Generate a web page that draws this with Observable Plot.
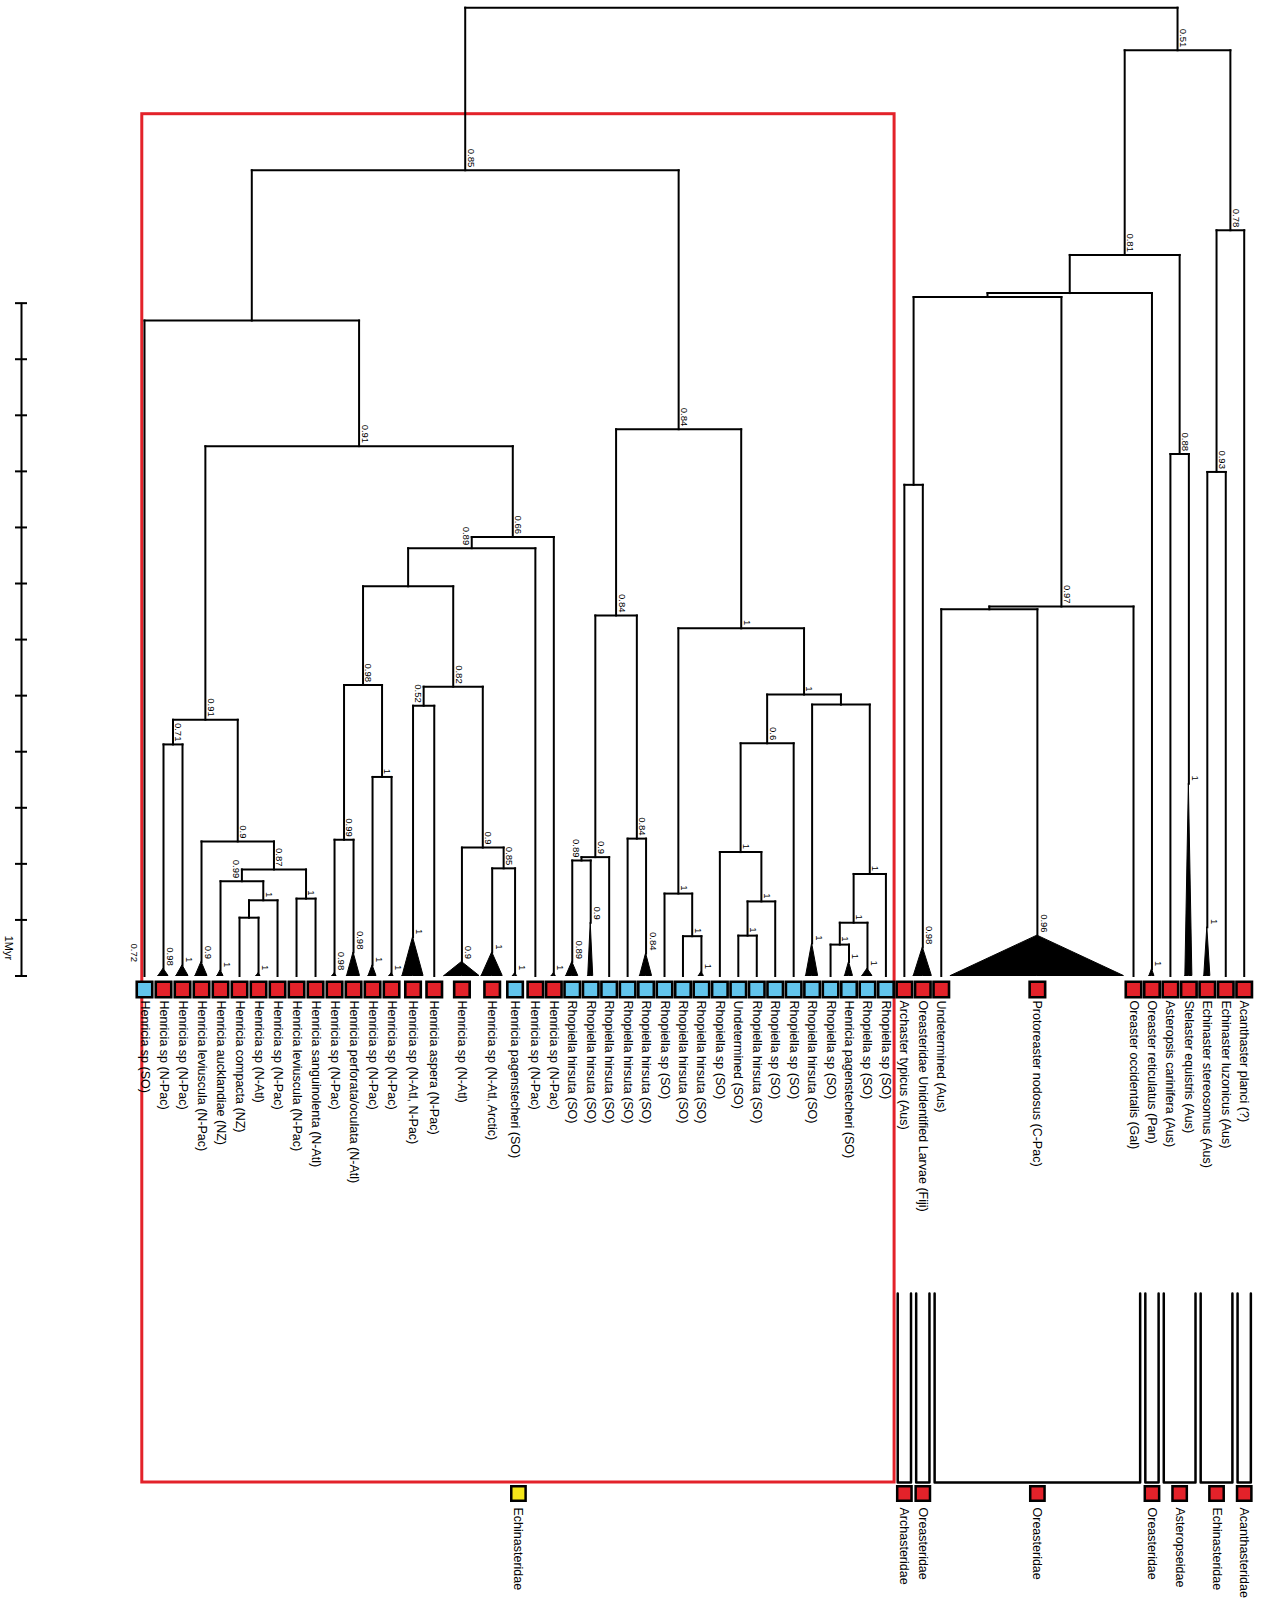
<!DOCTYPE html>
<html>
<head>
<meta charset="utf-8">
<script src="https://cdn.jsdelivr.net/npm/d3@7"></script>
<script src="https://cdn.jsdelivr.net/npm/@observablehq/plot@0.6"></script>
<style>
  html, body { margin: 0; padding: 0; background: #fff; }
  #chart svg { display: block; }
</style>
</head>
<body>
<div id="chart"></div>
<script>
// ---------------- DATA ----------------
const tipNames = [
  "Henricia sp (SO)", "Henricia sp (N-Pac)", "Henricia sp (N-Pac)", "Henricia leviuscula (N-Pac)",
  "Henricia aucklandiae (NZ)", "Henricia compacta (NZ)", "Henricia sp (N-Atl)", "Henricia sp (N-Pac)",
  "Henricia leviuscula (N-Pac)", "Henricia sanguinolenta (N-Atl)", "Henricia sp (N-Pac)",
  "Henricia perforata/oculata (N-Atl)", "Henricia sp (N-Pac)", "Henricia sp (N-Pac)",
  "Henricia sp (N-Atl, N-Pac)", "Henricia aspera (N-Pac)", "Henricia sp (N-Atl)",
  "Henricia sp (N-Atl, Arctic)", "Henricia pagenstecheri (SO)", "Henricia sp (N-Pac)", "Henricia sp (N-Pac)",
  "Rhopiella hirsuta (SO)", "Rhopiella hirsuta (SO)", "Rhopiella hirsuta (SO)", "Rhopiella hirsuta (SO)",
  "Rhopiella hirsuta (SO)", "Rhopiella sp (SO)", "Rhopiella hirsuta (SO)", "Rhopiella hirsuta (SO)",
  "Rhopiella sp (SO)", "Undetermined (SO)", "Rhopiella hirsuta (SO)", "Rhopiella sp (SO)", "Rhopiella sp (SO)",
  "Rhopiella hirsuta (SO)", "Rhopiella sp (SO)", "Henricia pagenstecheri (SO)", "Rhopiella sp (SO)",
  "Rhopiella sp (SO)", "Archaster typicus (Aus)", "Oreasteridae Unidentified Larvae (Fiji)",
  "Undetermined (Aus)", "Protoreaster nodosus (C-Pac)", "Oreaster occidentalis (Gal)",
  "Oreaster reticulatus (Pan)", "Asteropsis carinifera (Aus)", "Stelaster equistris (Aus)",
  "Echinaster stereosomus (Aus)", "Echinaster luzonicus (Aus)", "Acanthaster planci (?)"
];
// ocean of origin: SO = Southern Ocean, other = elsewhere
const tipOcean = [
  "SO","other","other","other","other","other","other","other","other","other","other","other","other","other",
  "other","other","other","other","SO","other","other",
  "SO","SO","SO","SO","SO","SO","SO","SO","SO","SO","SO","SO","SO","SO","SO","SO","SO","SO",
  "other","other","other","other","other","other","other","other","other","other","other"
];
// relative number of leaf slots each tip (or collapsed clade) occupies
const tipSlots = [
  1.03,1.03,1.03,1.03,1.03,1.03,1.03,1.03,1.03,1.03,1.03,1.03,1.03,1.03,1.3,1,2.0,1.28,1.2,1,1,
  1,1,1,1,1,1,1,1,1,1,1,1,1,1,1,1,1,1,
  1,1,1,9.42,1,1,1,1,1,1,1
];
// age (Myr) of the apex of collapsed clades (0 = single sequence)
const tipCladeAge = [
  0,0.13,0.19,0.25,0.10,0,0.05,0,0,0,0.05,0.42,0.19,0.05,0.69,0,0.25,0.42,0.05,0,0.05,
  0.25,0.95,0,0,0.40,0,0,0.07,0,0,0,0,0,0.58,0,0.25,0.13,0,
  0,0.51,0,0.72,0,0.12,0,3.43,0.87,0,0
];
// spread of collapsed clades (in leaf slots)
const tipCladeSpread = [
  0,0.54,0.65,0.65,0.33,0,0.22,0,0,0,0.22,0.70,0.43,0.22,1.14,0,1.90,1.14,0.22,0,0.22,
  0.65,0.27,0,0,0.65,0,0,0.27,0,0,0,0,0,0.65,0,0.43,0.54,0,
  0,0.98,0,9.38,0,0.27,0,0.38,0.33,0,0
];
// posterior support of tips / collapsed clades
const tipSupport = [
  "0.72","0.98","1","0.9","1","","1","","","","0.98","0.98","1","1","1","","0.9","1","1","","1",
  "0.89","0.9","","","0.84","","","1","","","","","","1","","1","1","",
  "","0.98","","0.96","","1","","1","1","",""
];

// internal nodes: id, left child, right child, age (Myr), posterior support
const nodeIds = ["root","nA","nB","nD","n091a","n091b","n071","n09a","n087","n099a","n1b","nc","n1a",
  "n066","n089","ne","n098","n099b","n1c","n082","n052","n09b","n085",
  "nR","n084b","n09c","n089b","n084c","n1d","n1e","n1g","n1f","n06","n1i","n1j","n1k","nh","n1l","n1m","n1n",
  "n081","nE","nC","nAL","n097","nin","n088","n078","n093"];
const nodeLeft = ["nA","nD","n081","t1","n091b","n071","t2","t4","n099a","t5","nc","t6","t9",
  "n089","ne","n098","n099b","t11","t13","n052","t15","t17","t18",
  "n084b","n09c","n089b","t22","t25","n1e","t27","t28","n06","n1i","t30","n1k","t31","t35","n1m","n1n","t36",
  "nE","nC","nAL","t40","nin","t42","t46","n093","t48"];
const nodeRight = ["nB","nR","n078","n091a","n066","n09a","t3","n087","n1a","n1b","t8","t7","t10",
  "t21","t20","n082","n1c","t12","t14","n09b","t16","n085","t19",
  "n1d","n084c","t24","t23","t26","n1f","n1g","t29","nh","t34","n1j","t33","t32","n1l","t39","t38","t37",
  "n088","t45","n097","t41","t44","t43","t47","t50","t49"];
const nodeAge = [17.27,14.37,16.51,11.69,9.45,4.57,4.13,2.40,1.90,1.69,1.35,1.04,1.38,
  7.83,7.63,6.95,5.19,2.43,3.55,5.16,4.82,2.29,1.92,
  9.75,6.43,2.12,2.06,2.45,6.20,1.47,0.71,5.02,4.15,2.21,1.33,0.72,4.84,1.82,0.95,0.56,
  12.86,12.18,12.11,8.76,6.59,6.54,9.31,13.30,8.99];
const nodeSupport = ["","0.85","0.51","","0.91","0.91","0.71","0.9","0.87","0.99","1","","1",
  "0.66","0.89","","0.98","0.99","1","0.82","0.52","0.9","0.85",
  "0.84","0.84","0.9","0.89","0.84","1","1","1","1","0.6","1","1","1","","1","1","1",
  "0.81","","","","0.97","","0.88","0.78","0.93"];

// families (bottom annotation)
const familyNames = ["Echinasteridae","Archasteridae","Oreasteridae","Oreasteridae","Oreasteridae",
  "Asteropseidae","Echinasteridae","Acanthasteridae"];
const familyFirstTip = [1,40,41,42,45,46,48,50];
const familyLastTip  = [39,40,41,44,45,47,49,50];
const familyGroup = ["focal","other","other","other","other","other","other","other"];

// time scale bar (Myr)
const scaleTicks = [0,1,2,3,4,5,6,7,8,9,10,11,12];

// ---------------- LAYOUT ----------------
const W = 1263, H = 1598;
const SLOT_PX = 18.45, X0_PX = 134.5;            // x scale: leaf slots
const PX_PER_MYR = 56.07, AGE0_PX = 975.5;       // y scale: Myr
const xDomain = [-X0_PX / SLOT_PX, (W - X0_PX) / SLOT_PX];
const yDomain = [(AGE0_PX - H) / PX_PER_MYR, AGE0_PX / PX_PER_MYR];

const RED = "#e3222a", BLUE = "#62c4ec", YELLOW = "#f4e61a";

const tipIds = tipNames.map((_, i) => "t" + (i + 1));
let acc = 0;
const tipX = tipSlots.map(w => { const c = acc + w / 2; acc += w; return c; });

const pos = new Map();
tipIds.forEach((id, i) => pos.set(id, {x: tipX[i], age: tipCladeAge[i]}));
const nodeIdx = new Map(nodeIds.map((id, i) => [id, i]));
const parentAge = new Map();
function place(id) {
  if (pos.has(id)) return pos.get(id);
  const i = nodeIdx.get(id);
  const a = place(nodeLeft[i]), b = place(nodeRight[i]);
  parentAge.set(nodeLeft[i], nodeAge[i]);
  parentAge.set(nodeRight[i], nodeAge[i]);
  const p = {x: (a.x + b.x) / 2, age: nodeAge[i], left: a.x, right: b.x};
  pos.set(id, p);
  return p;
}
place("root");

// branches
const segments = [];
nodeIds.forEach((id, i) => {
  const p = pos.get(id);
  segments.push({x1: p.left, x2: p.right, y1: p.age, y2: p.age});
  for (const c of [nodeLeft[i], nodeRight[i]]) {
    const q = pos.get(c);
    segments.push({x1: q.x, x2: q.x, y1: p.age, y2: q.age});
  }
});

// collapsed clade triangles
const triangles = [];
tipIds.forEach((id, i) => {
  if (tipCladeSpread[i] > 0) {
    const x = tipX[i], s = tipCladeSpread[i] / 2;
    triangles.push({tip: id, x: x - s, y1: 0, y2: 0});
    triangles.push({tip: id, x: x, y1: 0, y2: tipCladeAge[i]});
    triangles.push({tip: id, x: x + s, y1: 0, y2: 0});
  }
});

// node support labels
const nodeLabels = nodeIds.map((id, i) => {
  const p = pos.get(id);
  const branchPx = parentAge.has(id) ? (parentAge.get(id) - p.age) * PX_PER_MYR : 999;
  return {x: p.x, y: p.age, text: nodeSupport[i], side: branchPx < nodeSupport[i].length * 5 ? "left" : "right"};
}).filter(d => d.text !== "");

const tipLabelsSupport = tipIds.map((id, i) => ({x: tipX[i], y: tipCladeAge[i], text: tipSupport[i], first: i === 0}))
  .filter(d => d.text !== "");

const tips = tipIds.map((id, i) => ({x: tipX[i], name: tipNames[i], ocean: tipOcean[i]}));

// family annotation
const FAM_TOP = (AGE0_PX - 1293) / PX_PER_MYR;
const FAM_BOTTOM = (AGE0_PX - 1482) / PX_PER_MYR;
const FAM_SQ = (AGE0_PX - 1493) / PX_PER_MYR;
const PAD = 0.36;
const boxLeft = tipX[familyFirstTip[0] - 1] - 0.12;
const boxRight = tipX[familyLastTip[0] - 1] + 0.47;
const boxTop = pos.get("nA").age + 1.0;
const brackets = [];
const famMarks = [];
familyNames.forEach((f, i) => {
  const a = tipX[familyFirstTip[i] - 1], b = tipX[familyLastTip[i] - 1];
  if (familyGroup[i] === "focal") {
    famMarks.push({x: (boxLeft + boxRight) / 2, name: f, group: familyGroup[i]});
  } else {
    brackets.push({fam: i, x: a - PAD, y: FAM_TOP});
    brackets.push({fam: i, x: a - PAD, y: FAM_BOTTOM});
    brackets.push({fam: i, x: b + PAD, y: FAM_BOTTOM});
    brackets.push({fam: i, x: b + PAD, y: FAM_TOP});
    famMarks.push({x: (a + b) / 2, name: f, group: familyGroup[i]});
  }
});

const SB_X = (21 - X0_PX) / SLOT_PX;
const SB_TICK = 6 / SLOT_PX;

const fontFamily = "'Liberation Sans', Arial, Helvetica, sans-serif";

const chart = Plot.plot({
  width: W, height: H, margin: 0,
  x: {domain: xDomain, axis: null},
  y: {domain: yDomain, axis: null},
  style: {fontFamily, background: "#fff", color: "#000"},
  marks: [
    // red box around Echinasteridae clade
    Plot.rect([{}], {x1: () => boxLeft, x2: () => boxRight, y1: () => FAM_BOTTOM, y2: () => boxTop,
      fill: "none", stroke: RED, strokeWidth: 3}),
    // family brackets
    Plot.line(brackets, {x: "x", y: "y", z: "fam", stroke: "#000", strokeWidth: 2.5}),
    // tree branches
    Plot.link(segments, {x1: "x1", x2: "x2", y1: "y1", y2: "y2", stroke: "#000", strokeWidth: 2, strokeLinecap: "square"}),
    // collapsed clades
    Plot.areaY(triangles, {x: "x", y1: "y1", y2: "y2", z: "tip", fill: "#000", stroke: "#000", strokeWidth: 1}),
    // node supports
    Plot.text(nodeLabels.filter(d => d.side === "right"), {x: "x", y: "y", text: "text", rotate: 90,
      textAnchor: "end", dx: 5.5, dy: -3, fontSize: 9.5, fill: "#000"}),
    Plot.text(nodeLabels.filter(d => d.side === "left"), {x: "x", y: "y", text: "text", rotate: 90,
      textAnchor: "end", dx: -5.5, dy: -3, fontSize: 9.5, fill: "#000"}),
    // tip supports
    Plot.text(tipLabelsSupport.filter(d => !d.first), {x: "x", y: "y", text: "text", rotate: 90,
      textAnchor: "end", dx: 6.5, dy: -3, fontSize: 9.5, fill: "#000"}),
    Plot.text(tipLabelsSupport.filter(d => d.first), {x: "x", y: "y", text: "text", rotate: 90,
      textAnchor: "end", dx: -10.5, dy: -14, fontSize: 9.5, fill: "#000"}),
    // tip squares
    Plot.dot(tips, {x: "x", y: () => 0, dy: 13.5, symbol: "square", r: 8.75,
      fill: d => d.ocean === "SO" ? BLUE : RED, stroke: "#000", strokeWidth: 2.6}),
    // tip labels
    Plot.text(tips, {x: "x", y: () => 0, dy: 24.5, text: "name", rotate: 90, textAnchor: "start",
      fontSize: 12.5, fill: "#000"}),
    // scale bar
    Plot.ruleX([SB_X], {y1: scaleTicks[0], y2: scaleTicks[scaleTicks.length - 1], stroke: "#000", strokeWidth: 2}),
    Plot.ruleY(scaleTicks, {y: d => d, x1: SB_X - SB_TICK, x2: SB_X + SB_TICK, stroke: "#000", strokeWidth: 2}),
    Plot.text(["1Myr"], {x: () => SB_X, y: () => (scaleTicks[0] + scaleTicks[1]) / 2, text: d => d, rotate: 90,
      dx: -13, fontSize: 11, fill: "#000"}),
    // family squares + labels
    Plot.dot(famMarks, {x: "x", y: () => FAM_SQ, symbol: "square", r: 8.1,
      fill: d => d.group === "focal" ? YELLOW : RED, stroke: "#000", strokeWidth: 2.5}),
    Plot.text(famMarks, {x: "x", y: () => FAM_SQ, dy: 14, text: "name", rotate: 90, textAnchor: "start",
      fontSize: 12.5, fill: "#000"})
  ]
});
document.getElementById("chart").appendChild(chart);
</script>
</body>
</html>
